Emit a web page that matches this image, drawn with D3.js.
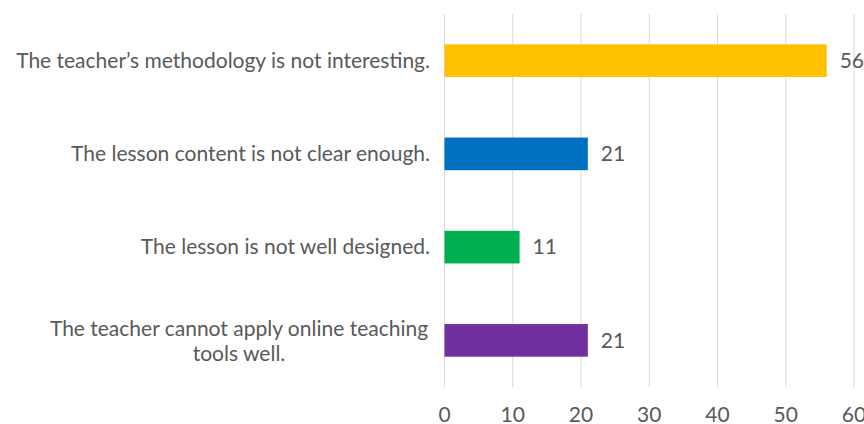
<!DOCTYPE html>
<html>
<head>
<meta charset="utf-8">
<script src="https://cdn.jsdelivr.net/npm/d3@7"></script>
<style>
  body { margin: 0; background: #fff; }
  text { font-family: Lato, "Open Sans", sans-serif; fill: #595959; }
</style>
</head>
<body>
<script>
// data
const categories = [
  ["The teacher\u2019s methodology is not interesting."],
  ["The lesson content is not clear enough."],
  ["The lesson is not well designed."],
  ["The teacher cannot apply online teaching", "tools well."]
];
const values = [56, 21, 11, 21];
const colors = ["#ffc000", "#0070c0", "#00b050", "#7030a0"];
const ticks = [0, 10, 20, 30, 40, 50, 60];

const width = 864, height = 424;
const margin = { top: 14, right: 10, bottom: 37, left: 444.5 };
const fs = "21px";

const svg = d3.select("body").append("svg")
    .attr("width", width)
    .attr("height", height);

const x = d3.scaleLinear()
    .domain([0, 60])
    .range([margin.left, 854]);

const y = d3.scaleBand()
    .domain(d3.range(categories.length))
    .range([margin.top, height - margin.bottom])
    .paddingInner(0.65)
    .paddingOuter(0.325);

// grid
svg.append("g")
    .selectAll("line")
    .data(ticks)
    .join("line")
    .attr("x1", d => x(d)).attr("x2", d => x(d))
    .attr("y1", margin.top).attr("y2", height - margin.bottom)
    .attr("stroke", "#d9d9d9")
    .attr("stroke-width", 1);

// axis labels
svg.append("g")
    .selectAll("text")
    .data(ticks)
    .join("text")
    .attr("x", d => x(d))
    .attr("y", 422)
    .attr("text-anchor", "middle")
    .style("font-size", fs)
    .text(d => d);

// bars
svg.append("g")
    .selectAll("rect")
    .data(values)
    .join("rect")
    .attr("x", x(0))
    .attr("y", (d, i) => y(i))
    .attr("width", d => x(d) - x(0))
    .attr("height", y.bandwidth())
    .attr("fill", (d, i) => colors[i]);

// value labels
svg.append("g")
    .selectAll("text")
    .data(values)
    .join("text")
    .attr("x", d => x(d) + 13)
    .attr("y", (d, i) => y(i) + y.bandwidth() / 2)
    .attr("dy", "0.35em")
    .style("font-size", fs)
    .text(d => d);

// category labels
const cat = svg.append("g")
    .selectAll("text")
    .data(categories)
    .join("text")
    .style("font-size", fs)
    .attr("text-anchor", d => d.length > 1 ? "middle" : "end")
    .attr("transform", (d, i) => {
      const cy = y(i) + y.bandwidth() / 2;
      return d.length > 1 ? `translate(239,${cy - 12})` : `translate(430,${cy})`;
    });

cat.selectAll("tspan")
    .data(d => d)
    .join("tspan")
    .attr("x", 0)
    .attr("dy", (d, j) => j === 0 ? "0.35em" : "25px")
    .text(d => d);
</script>
</body>
</html>
